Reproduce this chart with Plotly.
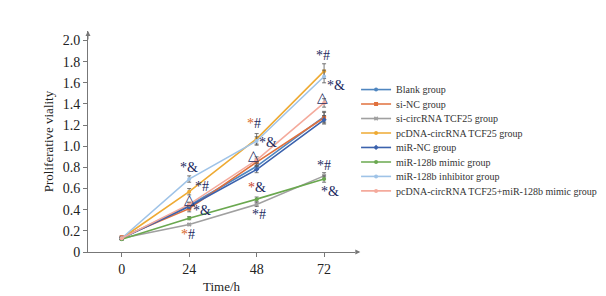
import plotly.graph_objects as go

times = [0, 24, 48, 72]
groups = ["Blank group", "si-NC group", "si-circRNA TCF25 group", "pcDNA-circRNA TCF25 group",
          "miR-NC group", "miR-128b mimic group", "miR-128b inhibitor group",
          "pcDNA-circRNA TCF25+miR-128b mimic group"]
blank = [0.13, 0.44, 0.81, 1.28]
si_nc = [0.14, 0.41, 0.85, 1.27]
si_circ = [0.13, 0.26, 0.45, 0.72]
pcdna = [0.13, 0.57, 1.07, 1.71]
mir_nc = [0.13, 0.43, 0.78, 1.25]
mimic = [0.12, 0.32, 0.50, 0.69]
inhibitor = [0.13, 0.69, 1.05, 1.66]
combo = [0.13, 0.45, 0.87, 1.41]
err_blank = [0.01, 0.03, 0.03, 0.05]
err_si_nc = [0.01, 0.03, 0.03, 0.05]
err_si_circ = [0.01, 0.01, 0.02, 0.03]
err_pcdna = [0.01, 0.03, 0.05, 0.07]
err_mir_nc = [0.01, 0.02, 0.03, 0.04]
err_mimic = [0.01, 0.015, 0.02, 0.03]
err_inhibitor = [0.01, 0.03, 0.04, 0.06]
err_combo = [0.01, 0.02, 0.03, 0.04]

series = [blank, si_nc, si_circ, pcdna, mir_nc, mimic, inhibitor, combo]
errors = [err_blank, err_si_nc, err_si_circ, err_pcdna, err_mir_nc, err_mimic, err_inhibitor, err_combo]
colors = ["#4f86c0", "#e0703c", "#a0a0a0", "#eeaa33", "#3b62ad", "#6aa84f", "#9fc3e7", "#f4aa9c"]
symbols = ["circle", "square", "x", "circle", "diamond", "circle", "circle", "circle"]

ann_x = [24, 28.4, 24, 28.4, 23.6, 47, 52.2, 47, 48.3, 48.7, 71.5, 76.4, 71.5, 72, 74]
ann_y = [0.80, 0.62, 0.50, 0.39, 0.165, 1.215, 1.04, 0.915, 0.61, 0.355, 1.86, 1.57, 1.46, 0.82, 0.575]
ann_t = ["*&", "*#", "△", "*&", "<span style='color:#d9661f'>*</span>#",
         "<span style='color:#d9661f'>*</span>#", "*&", "△",
         "<span style='color:#c8452a'>*</span>&", "*#",
         "*#", "*&", "△", "*#", "*&"]

yticks = [0, 0.2, 0.4, 0.6, 0.8, 1.0, 1.2, 1.4, 1.6, 1.8, 2.0]
yticklabels = ["0", "0.2", "0.4", "0.6", "0.8", "1.0", "1.2", "1.4", "1.6", "1.8", "2.0"]

fig = go.Figure()
legend_layout = {}
for i, (name, vals, err, col, sym) in enumerate(zip(groups, series, errors, colors, symbols)):
    lname = "legend" if i == 0 else f"legend{i + 1}"
    fig.add_trace(go.Scatter(
        x=times, y=vals, name=name, mode="lines+markers",
        line=dict(color=col, width=1.6),
        marker=dict(color=col, size=4, symbol=sym),
        error_y=dict(type="data", array=err, color="#555555", thickness=0.8, width=2),
        legend=lname,
    ))
    legend_layout[lname] = dict(x=1.004, y=0.735 - i * 0.0655, xanchor="left", yanchor="middle",
                                font=dict(size=10, color="#333333"), bgcolor="rgba(0,0,0,0)",
                                itemwidth=30)

annotations = []
for x, y, t in zip(ann_x, ann_y, ann_t):
    annotations.append(dict(x=x, y=y, xref="x", yref="y", text=t, showarrow=False,
                            font=dict(family="Liberation Serif", size=14, color="#1c2a5e")))
# axis arrows
annotations.append(dict(x=0, y=1.0, xref="paper", yref="paper", ax=0, ay=10,
                        showarrow=True, arrowhead=2, arrowsize=1, arrowwidth=1, arrowcolor="#777777", text=""))
annotations.append(dict(x=1.02, y=0, xref="paper", yref="paper", ax=-6, ay=0,
                        showarrow=True, arrowhead=2, arrowsize=1, arrowwidth=1, arrowcolor="#777777", text=""))

fig.update_layout(
    width=606, height=296,
    margin=dict(l=80, r=256, t=23, b=44),
    paper_bgcolor="white", plot_bgcolor="white",
    font=dict(family="Liberation Serif", size=12, color="#222222"),
    showlegend=True,
    annotations=annotations,
    xaxis=dict(range=[-12, 83], tickvals=times, ticktext=[str(t) for t in times],
               showline=True, linecolor="#777777", linewidth=1, ticks="outside", ticklen=4,
               tickcolor="#777777", showgrid=False, zeroline=False,
               title=dict(text="Time/h", font=dict(size=13), standoff=6),
               tickfont=dict(size=14)),
    yaxis=dict(range=[0, 2.09], tickvals=yticks, ticktext=yticklabels,
               showline=True, linecolor="#777777", linewidth=1, ticks="outside", ticklen=4,
               tickcolor="#777777", showgrid=False, zeroline=False,
               title=dict(text="Proliferative viality", font=dict(size=13), standoff=6),
               tickfont=dict(size=14)),
)
fig.update_layout(**legend_layout)

fig.write_html("out.html")
